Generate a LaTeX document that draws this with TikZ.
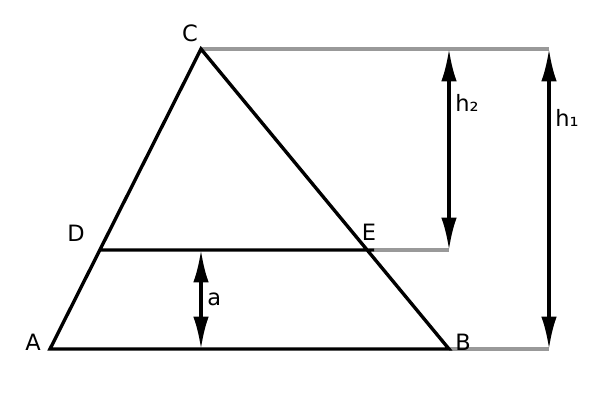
\documentclass[tikz,border=0pt]{standalone}
\usepackage{fontspec}
\setmainfont{DejaVu Sans}
\usetikzlibrary{arrows.meta}
\usetikzlibrary{positioning}

\begin{document}
\begin{tikzpicture}[x=0.025cm, y=-0.025cm,
        side/.style={line width=2.4pt, black},
        guide/.style={line width=2.4pt, gray!80},
        height/.style={line width=2.4pt, {Latex[length=23pt, width=11pt]}-{Latex[length=23pt, width=11pt]}},
        lbl/.style={font=\fontsize{16}{19}\selectfont}
    ]
            \useasboundingbox (0,0) rectangle (600,400);
            \coordinate (A) at (50,349);
            \coordinate (B) at (449,349);
            \coordinate (C) at (201,49);
            \coordinate (D) at (100,250);
            \coordinate (E) at (374,250);
            \coordinate (c1) at (549,49);
            \coordinate (c2) at (449,49);
            \coordinate (e1) at (449,250);
            \coordinate (b1) at (549,349);
            \coordinate (a1) at (201,250);
            \coordinate (a2) at (201,349);
            
            \draw[guide] (C) -- (c1)
                         (E) -- (e1)
                         (B) -- (b1);
            \draw[side]  (A) -- (B) -- (C) -- cycle
                         (D) -- (E);
            \draw[height] (e1) -- node[lbl, right, pos=0.73] {h₂} (c2);
            \draw[height] (b1) -- node[lbl, right, pos=0.77] {h₁} (c1);
            \draw[height] (a2) -- node[lbl, right] {a} (a1);
            
            \node[lbl] (lA) at (33,342) {A};
            \node[lbl] (lB) at (463,342) {B};
            \node[lbl] (lC) at (190,33) {C};
            \node[lbl] (lD) at (76,233) {D};
            \node[lbl] (lE) at (369,232) {E};
        \end{tikzpicture}
\end{document}
